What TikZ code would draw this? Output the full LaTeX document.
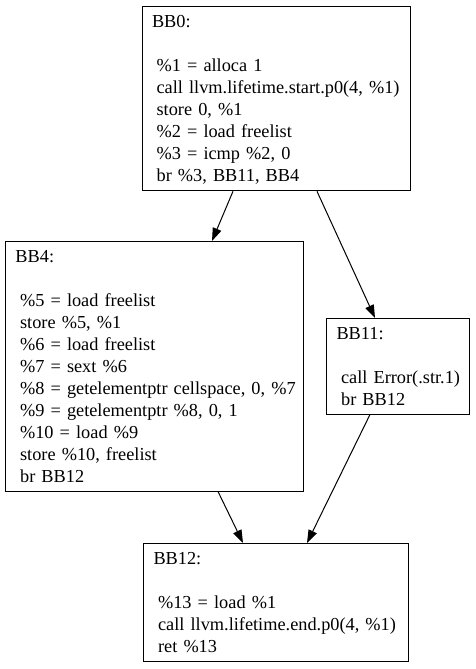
\documentclass[tikz,border=0pt]{standalone}
\usepackage{fontspec}
\setmainfont{Liberation Serif}
\usetikzlibrary{arrows.meta,calc}
\newcommand{\hdr}[1]{\mbox{\rule[-2pt]{0pt}{16.5pt}#1}}
\newcommand{\cln}[1]{\mbox{\rule[-2pt]{0pt}{16.5pt}\hspace{4.6pt}#1}}
\begin{document}
\begin{tikzpicture}[x=1pt,y=1pt,
  bb/.style={draw=black, line width=1pt, anchor=north west, align=left,
    inner xsep=10pt, inner ysep=6.5pt, font=\fontsize{18.3}{22}\selectfont},
  arr/.style={line width=1pt, -{Triangle[length=13pt,width=9pt]}}]
\useasboundingbox (0,0) rectangle (475,-669);
\node[bb, text width=248.5pt] (bb0) at (141.5,-6) {\hdr{BB0:}\\ \hdr{}\\
  \cln{\%1 = alloca 1}\\
  \cln{call llvm.lifetime.start.p0(4, \%1)}\\
  \cln{store 0, \%1}\\
  \cln{\%2 = load freelist}\\
  \cln{\%3 = icmp \%2, 0}\\
  \cln{br \%3, BB11, BB4}};
\node[bb, text width=277.5pt] (bb4) at (5,-241) {\hdr{BB4:}\\ \hdr{}\\
  \cln{\%5 = load freelist}\\
  \cln{store \%5, \%1}\\
  \cln{\%6 = load freelist}\\
  \cln{\%7 = sext \%6}\\
  \cln{\%8 = getelementptr cellspace, 0, \%7}\\
  \cln{\%9 = getelementptr \%8, 0, 1}\\
  \cln{\%10 = load \%9}\\
  \cln{store \%10, freelist}\\
  \cln{br BB12}};
\node[bb, text width=123pt] (bb11) at (326,-318) {\hdr{BB11:}\\ \hdr{}\\
  \cln{call Error(.str.1)}\\
  \cln{br BB12}};
\node[bb, text width=245pt] (bb12) at (143,-543) {\hdr{BB12:}\\ \hdr{}\\
  \cln{\%13 = load \%1}\\
  \cln{call llvm.lifetime.end.p0(4, \%1)}\\
  \cln{ret \%13}};
\draw[arr] ($(bb0.south west)+(91.5,0)$) -- ($(bb4.north west)+(207,0)$);
\draw[arr] ($(bb0.south west)+(175.5,0)$) -- ($(bb11.north west)+(49,0)$);
\draw[arr] ($(bb4.south west)+(213,0)$) -- ($(bb12.north west)+(100,0)$);
\draw[arr] ($(bb11.south west)+(44,0)$) -- ($(bb12.north west)+(164,0)$);
\end{tikzpicture}
\end{document}
